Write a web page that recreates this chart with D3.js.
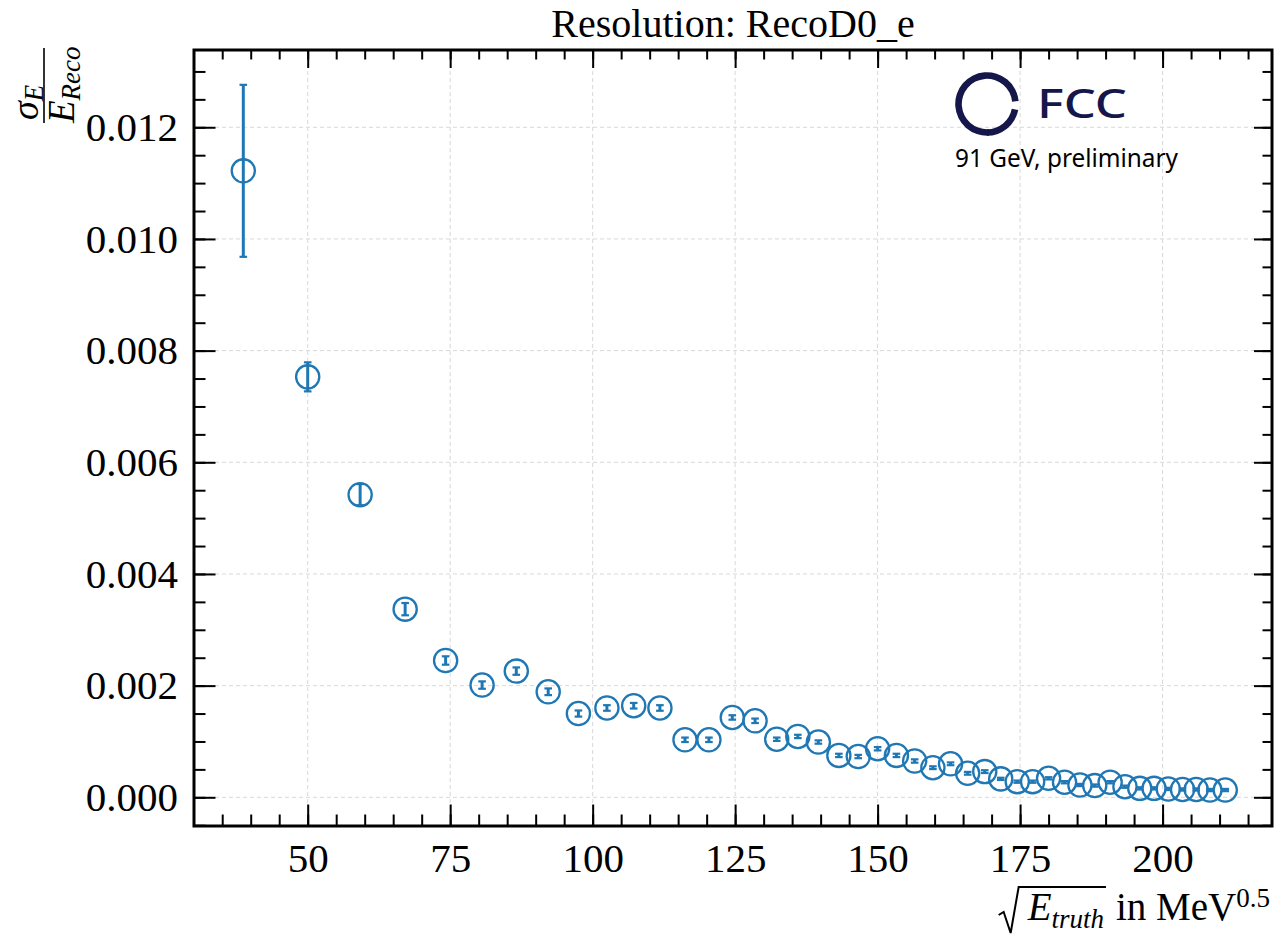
<!DOCTYPE html>
<html>
<head>
<meta charset="utf-8">
<script src="https://cdn.jsdelivr.net/npm/d3@7"></script>
<style>
body { margin: 0; background: #fff; }
svg { display: block; }
</style>
</head>
<body>
<div id="chart"></div>
<script>
// sqrt(E_truth) bin centres, MeV^0.5
var xVals = [38.7, 50.0, 59.2, 67.1, 74.2, 80.6, 86.6, 92.2, 97.5, 102.5,
             107.2, 111.8, 116.2, 120.4, 124.5, 128.5, 132.3, 136.0, 139.6, 143.2,
             146.6, 150.0, 153.3, 156.5, 159.7, 162.8, 165.8, 168.8, 171.6, 174.5,
             177.2, 180.0, 182.8, 185.5, 188.1, 190.8, 193.4, 196.0, 198.5, 201.0,
             203.5, 205.9, 208.3, 211.0];
// sigma_E / E_reco
var yVals = [0.01122, 0.00753, 0.00542, 0.00337, 0.00245, 0.00201, 0.00226, 0.00189, 0.00150, 0.00160,
             0.00164, 0.00160, 0.00103, 0.00103, 0.00143, 0.00137, 0.00104, 0.00109, 0.00099, 0.00075,
             0.00073, 0.00087, 0.00075, 0.00065, 0.00053, 0.00060, 0.00043, 0.00046, 0.00033, 0.00028,
             0.00028, 0.00034, 0.00027, 0.00022, 0.00021, 0.00027, 0.00019, 0.00016, 0.00016, 0.00015,
             0.00014, 0.00014, 0.00013, 0.00013];
var yErr = [0.00154, 0.00026, 0.00019, 0.00011, 0.000075, 0.000066, 0.000066, 0.00006, 0.000055, 0.00005,
            0.00005, 0.00005, 0.00004, 0.00004, 0.00004, 0.00004, 0.00003, 0.00003, 0.00003, 0.00003,
            0.00003, 0.00003, 0.00003, 0.00003, 0.000025, 0.000025, 0.000025, 0.000025, 0.00002, 0.00002,
            0.00002, 0.00002, 0.00002, 0.00002, 0.00002, 0.00002, 0.00002, 0.00002, 0.00002, 0.00002,
            0.00002, 0.00002, 0.00002, 0.00002];
var xTicks = [50, 75, 100, 125, 150, 175, 200];
var yTicks = [0, 0.002, 0.004, 0.006, 0.008, 0.010, 0.012];

var W = 1281, H = 938;
var mL = 194, mR = 1272, mT = 50, mB = 826;
var serif = "'Liberation Serif', 'DejaVu Serif', serif";
var blue = '#1f77b4';

var svg = d3.select('#chart').append('svg')
    .attr('width', W)
    .attr('height', H);

var x = d3.scaleLinear().domain([30.05, 219.2]).range([mL, mR]);
var y = d3.scaleLinear().domain([-0.000514, 0.013384]).range([mB, mT]);

var xMinor = d3.range(35, 220, 5);
var yMinor = d3.range(-1, 27).map(function(i){ return i * 0.0005; });

// grid
var grid = svg.append('g')
    .style('stroke', '#d8d8d8')
    .style('stroke-width', 1)
    .style('stroke-dasharray', '4,3');
grid.selectAll('.gx').data(xTicks).enter().append('line')
    .attr('x1', function(d){ return x(d); }).attr('x2', function(d){ return x(d); })
    .attr('y1', mT).attr('y2', mB);
grid.selectAll('.gy').data(yTicks).enter().append('line')
    .attr('y1', function(d){ return y(d); }).attr('y2', function(d){ return y(d); })
    .attr('x1', mL).attr('x2', mR);

// ticks, all pointing inward
function axisStyle(g){
  g.select('.domain').remove();
  g.selectAll('.tick line').style('stroke', '#000').style('stroke-width', 2);
  g.selectAll('.tick text').style('font-family', serif).style('font-size', '41px').style('fill', '#000');
}
svg.append('g').attr('transform', 'translate(0,' + mB + ')')
    .call(d3.axisBottom(x).tickValues(xMinor).tickSize(-11.5).tickFormat('')).call(axisStyle);
svg.append('g').attr('transform', 'translate(0,' + mB + ')')
    .call(d3.axisBottom(x).tickValues(xTicks).tickSize(-21.5).tickPadding(17).tickFormat(d3.format('d'))).call(axisStyle);
svg.append('g').attr('transform', 'translate(0,' + mT + ')')
    .call(d3.axisTop(x).tickValues(xMinor).tickSize(-9.5).tickFormat('')).call(axisStyle);
svg.append('g').attr('transform', 'translate(0,' + mT + ')')
    .call(d3.axisTop(x).tickValues(xTicks).tickSize(-18).tickFormat('')).call(axisStyle);
svg.append('g').attr('transform', 'translate(' + mL + ',0)')
    .call(d3.axisLeft(y).tickValues(yMinor).tickSize(-11.5).tickFormat('')).call(axisStyle);
svg.append('g').attr('transform', 'translate(' + mL + ',0)')
    .call(d3.axisLeft(y).tickValues(yTicks).tickSize(-21.5).tickPadding(16).tickFormat(d3.format('.3f'))).call(axisStyle);
svg.append('g').attr('transform', 'translate(' + mR + ',0)')
    .call(d3.axisRight(y).tickValues(yMinor).tickSize(-9.5).tickFormat('')).call(axisStyle);
svg.append('g').attr('transform', 'translate(' + mR + ',0)')
    .call(d3.axisRight(y).tickValues(yTicks).tickSize(-18).tickFormat('')).call(axisStyle);

// data: error bars then open markers
var pts = xVals.map(function(d, i){ return {x: d, y: yVals[i], e: yErr[i]}; });
var plot = svg.append('g');
plot.selectAll('.eb').data(pts).enter().append('line')
    .attr('x1', function(d){ return x(d.x); }).attr('x2', function(d){ return x(d.x); })
    .attr('y1', function(d){ return y(d.y + d.e); }).attr('y2', function(d){ return y(d.y - d.e); })
    .style('stroke', blue).style('stroke-width', 3);
plot.selectAll('.capt').data(pts).enter().append('line')
    .attr('x1', function(d){ return x(d.x) - 3.8; }).attr('x2', function(d){ return x(d.x) + 3.8; })
    .attr('y1', function(d){ return y(d.y + d.e); }).attr('y2', function(d){ return y(d.y + d.e); })
    .style('stroke', blue).style('stroke-width', 2.2);
plot.selectAll('.capb').data(pts).enter().append('line')
    .attr('x1', function(d){ return x(d.x) - 3.8; }).attr('x2', function(d){ return x(d.x) + 3.8; })
    .attr('y1', function(d){ return y(d.y - d.e); }).attr('y2', function(d){ return y(d.y - d.e); })
    .style('stroke', blue).style('stroke-width', 2.2);
plot.selectAll('circle').data(pts).enter().append('circle')
    .attr('cx', function(d){ return x(d.x); })
    .attr('cy', function(d){ return y(d.y); })
    .attr('r', 11.6)
    .style('fill', 'none')
    .style('stroke', blue)
    .style('stroke-width', 2.3);

// frame
svg.append('rect')
    .attr('x', mL).attr('y', mT)
    .attr('width', mR - mL).attr('height', mB - mT)
    .style('fill', 'none').style('stroke', '#000').style('stroke-width', 3);

// title
svg.append('text')
    .text('Resolution: RecoD0_e')
    .attr('x', (mL + mR) / 2).attr('y', 37)
    .attr('text-anchor', 'middle')
    .style('font-family', serif).style('font-size', '40px');

// y label: sigma_E / E_Reco, rotated
var yl = svg.append('g').attr('transform', 'translate(44,86) rotate(-90)')
    .style('font-family', serif).style('font-style', 'italic');
var num = yl.append('text').attr('x', -34).attr('y', -6).style('font-size', '38px');
num.append('tspan').text('σ');
num.append('tspan').attr('dy', 5).style('font-size', '27px').text('E');
var den = yl.append('text').attr('x', -37).attr('y', 30).style('font-size', '37px');
den.append('tspan').text('E');
den.append('tspan').attr('dy', 6).style('font-size', '27px').text('Reco');
yl.append('line').attr('x1', -37).attr('x2', 38).attr('y1', 0).attr('y2', 0)
    .style('stroke', '#000').style('stroke-width', 1.6);

// x label: sqrt(E_truth) in MeV^0.5
var base = 920;
var xb = svg.append('text').attr('x', 1270).attr('y', base).attr('text-anchor', 'end')
    .style('font-family', serif).style('font-size', '39px');
xb.append('tspan').text('in MeV');
xb.append('tspan').attr('dy', -13).style('font-size', '27px').text('0.5');
var bb = xb.node().getBBox();
var xa = svg.append('text').attr('x', bb.x - 12).attr('y', base).attr('text-anchor', 'end')
    .style('font-family', serif).style('font-size', '39px').style('font-style', 'italic');
xa.append('tspan').text('E');
xa.append('tspan').attr('dy', 8).style('font-size', '27px').text('truth');
var ab = xa.node().getBBox();
var r0 = ab.x - 28;
svg.append('path')
    .attr('d', 'M' + r0 + ',' + (base - 5) + ' L' + (r0 + 5) + ',' + (base - 8) +
               ' L' + (r0 + 12) + ',' + (base + 13) + ' L' + (r0 + 20) + ',' + (base - 33) +
               ' L' + (ab.x + ab.width + 2) + ',' + (base - 33))
    .style('fill', 'none').style('stroke', '#000').style('stroke-width', 2)
    .style('stroke-linejoin', 'miter');

// FCC logo
var navy = '#15164a';
var defs = svg.append('defs');
var cx = 987, cy = 104, rr = 28.5;
var gr = defs.append('linearGradient').attr('id', 'fade')
    .attr('gradientUnits', 'userSpaceOnUse')
    .attr('x1', cx + rr).attr('y1', cy + 5).attr('x2', cx - 5).attr('y2', cy + rr);
gr.append('stop').attr('offset', '0').attr('stop-color', '#ffffff');
gr.append('stop').attr('offset', '1').attr('stop-color', navy);
var arc = d3.arc().innerRadius(rr - 3.3).outerRadius(rr + 3.3);
svg.append('path')
    .attr('d', arc({startAngle: Math.PI * 0.98, endAngle: Math.PI * 2.47}))
    .attr('transform', 'translate(' + cx + ',' + cy + ')')
    .style('fill', navy);
svg.append('path')
    .attr('d', arc({startAngle: Math.PI * 0.56, endAngle: Math.PI * 1.0}))
    .attr('transform', 'translate(' + cx + ',' + cy + ')')
    .style('fill', 'url(#fade)');
svg.append('text')
    .text('FCC')
    .attr('x', 1037).attr('y', 118)
    .attr('textLength', 90).attr('lengthAdjust', 'spacingAndGlyphs')
    .style('font-family', "'Noto Sans', sans-serif").style('font-weight', 500)
    .style('font-size', '39px').style('fill', navy);
svg.append('text')
    .text('91 GeV, preliminary')
    .attr('x', 955).attr('y', 167)
    .attr('textLength', 223).attr('lengthAdjust', 'spacingAndGlyphs')
    .style('font-family', "'Noto Sans', sans-serif")
    .style('font-size', '25px').style('fill', '#000');
</script>
</body>
</html>
